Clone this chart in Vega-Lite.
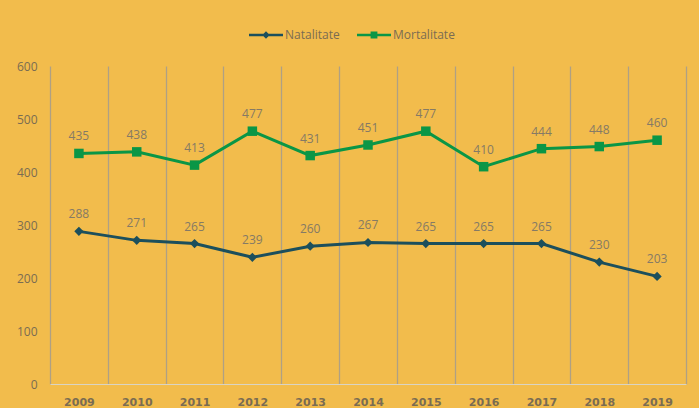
{
  "$schema": "https://vega.github.io/schema/vega-lite/v6.json",
  "width": 636,
  "height": 318,
  "autosize": {"type": "none"},
  "padding": {"left": 50, "top": 66, "right": 13, "bottom": 24},
  "background": "#F2BC4C",
  "config": {
    "view": {"stroke": null},
    "font": "Open Sans"
  },
  "data": {
    "values": [
      {"year": "2009", "series": "Natalitate", "value": 288},
      {"year": "2010", "series": "Natalitate", "value": 271},
      {"year": "2011", "series": "Natalitate", "value": 265},
      {"year": "2012", "series": "Natalitate", "value": 239},
      {"year": "2013", "series": "Natalitate", "value": 260},
      {"year": "2014", "series": "Natalitate", "value": 267},
      {"year": "2015", "series": "Natalitate", "value": 265},
      {"year": "2016", "series": "Natalitate", "value": 265},
      {"year": "2017", "series": "Natalitate", "value": 265},
      {"year": "2018", "series": "Natalitate", "value": 230},
      {"year": "2019", "series": "Natalitate", "value": 203},
      {"year": "2009", "series": "Mortalitate", "value": 435},
      {"year": "2010", "series": "Mortalitate", "value": 438},
      {"year": "2011", "series": "Mortalitate", "value": 413},
      {"year": "2012", "series": "Mortalitate", "value": 477},
      {"year": "2013", "series": "Mortalitate", "value": 431},
      {"year": "2014", "series": "Mortalitate", "value": 451},
      {"year": "2015", "series": "Mortalitate", "value": 477},
      {"year": "2016", "series": "Mortalitate", "value": 410},
      {"year": "2017", "series": "Mortalitate", "value": 444},
      {"year": "2018", "series": "Mortalitate", "value": 448},
      {"year": "2019", "series": "Mortalitate", "value": 460}
    ]
  },
  "encoding": {
    "x": {
      "field": "year",
      "type": "ordinal",
      "scale": {"paddingInner": 0, "paddingOuter": 0},
      "axis": {
        "title": null,
        "labelAngle": 0,
        "ticks": false,
        "domainColor": "#D9D4C4",
        "domainWidth": 1,
        "grid": true,
        "tickBand": "extent",
        "gridColor": "#AFA084",
        "gridWidth": 1.3,
        "labelFont": "DejaVu Sans",
        "labelFontWeight": "bold",
        "labelFontSize": 11,
        "labelColor": "#7A6C52",
        "labelPadding": 12
      }
    },
    "y": {
      "field": "value",
      "type": "quantitative",
      "scale": {"domain": [0, 600], "nice": false},
      "axis": {
        "title": null,
        "values": [0, 100, 200, 300, 400, 500, 600],
        "domain": false,
        "ticks": false,
        "grid": false,
        "labelPadding": 13,
        "labelFontSize": 12,
        "labelColor": "#7A6C52"
      }
    },
    "color": {
      "field": "series",
      "type": "nominal",
      "scale": {"domain": ["Natalitate", "Mortalitate"], "range": ["#1C4F5C", "#0A9646"]},
      "legend": {
        "title": null,
        "orient": "none",
        "direction": "horizontal",
        "legendX": 199,
        "legendY": -48,
        "padding": 0,
        "columnPadding": 17,
        "labelOffset": 2,
        "labelFontSize": 12,
        "labelColor": "#7A6C52",
        "symbolStrokeWidth": 0,
        "encode": {
          "symbols": {"update": {"size": {"value": 1156}, "opacity": {"value": 1}, "fillOpacity": {"value": 1}, "strokeWidth": {"value": 0}}}
        }
      }
    }
  },
  "layer": [
    {"mark": {"type": "line", "strokeWidth": 3}},
    {
      "transform": [{"filter": "datum.series == 'Natalitate'"}],
      "mark": {"type": "point", "shape": "diamond", "filled": true, "size": 85, "opacity": 1}
    },
    {
      "transform": [{"filter": "datum.series == 'Mortalitate'"}],
      "mark": {"type": "point", "shape": "square", "filled": true, "size": 90, "opacity": 1}
    },
    {
      "mark": {"type": "text", "dy": -17, "fontSize": 12, "color": "#857A65", "baseline": "middle"},
      "encoding": {"text": {"field": "value", "type": "quantitative"}, "color": {"value": "#857A65"}}
    },
    {
      "mark": {"type": "point", "filled": true, "size": 0, "opacity": 1, "strokeWidth": 0},
      "encoding": {
        "shape": {
          "field": "series",
          "type": "nominal",
          "scale": {
            "domain": ["Natalitate", "Mortalitate"],
            "range": [
              "M-1,-0.08L1,-0.08L1,0.08L-1,0.08Z M0,-0.22L0.22,0L0,0.22L-0.22,0Z",
              "M-1,-0.08L1,-0.08L1,0.08L-1,0.08Z M-0.2,-0.2L0.2,-0.2L0.2,0.2L-0.2,0.2Z"
            ]
          },
          "legend": {
            "title": null,
            "orient": "none",
            "direction": "horizontal",
            "legendX": 199,
            "legendY": -48,
            "padding": 0,
            "columnPadding": 17,
            "labelOffset": 2,
            "labelFontSize": 12,
            "labelColor": "#7A6C52",
            "symbolStrokeWidth": 0,
            "encode": {
              "symbols": {"update": {"size": {"value": 1156}, "opacity": {"value": 1}, "fillOpacity": {"value": 1}, "strokeWidth": {"value": 0}}}
            }
          }
        }
      }
    }
  ]
}
